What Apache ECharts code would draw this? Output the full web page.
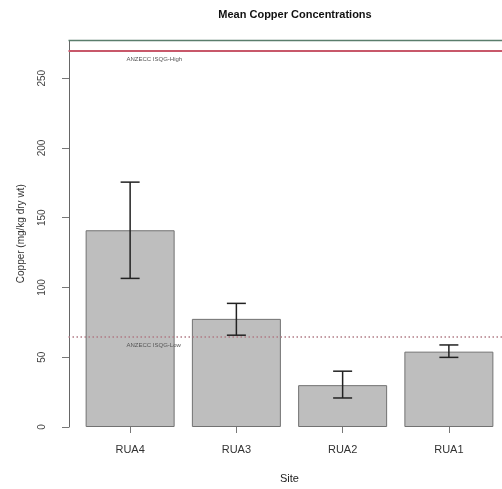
<!DOCTYPE html>
<html>
<head>
<meta charset="utf-8">
<script src="https://cdn.jsdelivr.net/npm/echarts@6/dist/echarts.min.js"></script>
<style>
html,body{margin:0;padding:0;background:#fff;}
#c{width:502px;height:489px;}
</style>
</head>
<body>
<div id="c"></div>
<script>
const categories = ['RUA4', 'RUA3', 'RUA2', 'RUA1'];
const means = [141, 77.5, 30, 54];
const errUpper = [175.5, 88.6, 40, 58.8];
const errLower = [106.5, 65.8, 20.8, 49.9];
const yTicks = [0, 50, 100, 150, 200, 250];
const isqgHigh = 270;
const isqgLow = 65;
const highLabel = 'ANZECC ISQG-High';
const lowLabel = 'ANZECC ISQG-Low';

const FONT = 'Liberation Sans, Arial, sans-serif';
const chart = echarts.init(document.getElementById('c'), null, {renderer: 'canvas'});

const errData = categories.map((c, i) => [i, errLower[i], errUpper[i]]);

chart.setOption({
  animation: false,
  backgroundColor: '#fff',
  title: {
    text: 'Mean Copper Concentrations',
    left: 290, top: 4, textAlign: 'center',
    textStyle: {fontFamily: FONT, fontSize: 11, fontWeight: 'bold', color: '#111'}
  },
  grid: {left: 77, top: 40.5, width: 426.4, height: 393},
  graphic: [{
    type: 'line', z: 10,
    shape: {x1: 68.5, y1: 40.5, x2: 502, y2: 40.5},
    style: {stroke: '#5a7d6c', lineWidth: 1.5}
  }],
  xAxis: {
    type: 'category', data: categories,
    name: 'Site', nameLocation: 'middle', nameGap: 46,
    nameTextStyle: {fontFamily: FONT, fontSize: 11, color: '#222'},
    axisLine: {show: false},
    axisTick: {show: true, alignWithLabel: true, length: 6, lineStyle: {color: '#777'}},
    axisLabel: {fontFamily: FONT, fontSize: 11, color: '#333', margin: 17}
  },
  yAxis: {
    type: 'value', min: 0, max: 277, interval: 50, offset: 8,
    name: 'Copper (mg/kg dry wt)', nameLocation: 'middle', nameGap: 43, nameRotate: 90,
    nameTextStyle: {fontFamily: FONT, fontSize: 10, color: '#333'},
    splitLine: {show: false},
    axisLine: {show: true, lineStyle: {color: '#666', width: 1}},
    axisTick: {show: true, length: 7, customValues: yTicks, lineStyle: {color: '#777'}},
    axisLabel: {show: true, customValues: yTicks, rotate: 90, fontFamily: FONT, fontSize: 10, color: '#444', margin: 22}
  },
  series: [{
    type: 'bar', data: means, barWidth: 89,
    itemStyle: {color: '#bebebe', borderColor: '#727272', borderWidth: 1},
    markLine: {
      silent: true, symbol: 'none', animation: false,
      data: [
        [{x: 68.5, yAxis: isqgHigh, lineStyle: {color: '#c8586a', width: 2, type: 'solid'},
          label: {show: true, formatter: highLabel, position: 'insideStartBottom', distance: [58, 6], fontSize: 6, color: '#555', fontFamily: FONT}},
         {x: 502, yAxis: isqgHigh}],
        [{x: 68.5, yAxis: isqgLow, lineStyle: {color: '#b07a84', width: 1.5, type: [1.5, 2.5]},
          label: {show: true, formatter: lowLabel, position: 'insideStartBottom', distance: [58, 6], fontSize: 6, color: '#555', fontFamily: FONT}},
         {x: 502, yAxis: isqgLow}]
      ]
    }
  }, {
    type: 'custom', data: errData, z: 5,
    renderItem: function (params, api) {
      const x = api.value(0);
      const lo = api.coord([x, api.value(1)]);
      const hi = api.coord([x, api.value(2)]);
      const half = 9.5;
      const st = {stroke: '#222', lineWidth: 1.5};
      return {type: 'group', children: [
        {type: 'line', shape: {x1: hi[0], y1: hi[1], x2: lo[0], y2: lo[1]}, style: st},
        {type: 'line', shape: {x1: hi[0] - half, y1: hi[1], x2: hi[0] + half, y2: hi[1]}, style: st},
        {type: 'line', shape: {x1: lo[0] - half, y1: lo[1], x2: lo[0] + half, y2: lo[1]}, style: st}
      ]};
    }
  }]
});
</script>
</body>
</html>
